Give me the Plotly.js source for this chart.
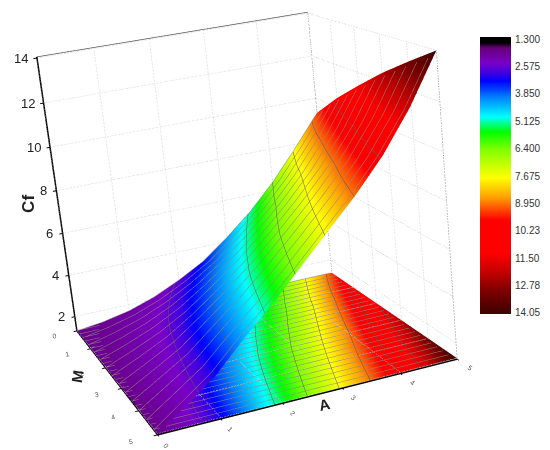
<!DOCTYPE html>
<html><head><meta charset="utf-8">
<script src="https://cdn.plot.ly/plotly-3.0.1.min.js"></script>
<style>html,body{margin:0;padding:0;width:550px;height:450px;overflow:hidden;background:#fff}
#g{position:absolute}</style></head><body><div id="g"></div>
<script>
const aValues=[0,0.5,1,1.5,2,2.5,3,3.5,4,4.5,5];
const mValues=[0,1,2,3,4,5];
const cfM0=[1.3,1.45,1.7,2.1,2.65,3.3,4.2,5.2,6.4,7.8,9.3];
const cfM1=[1.3,1.63,2.04,2.58,3.25,4.05,5.0,6.05,7.3,8.75,10.43];
const cfM2=[1.3,1.79,2.33,3.0,3.85,4.75,5.75,6.85,8.1,9.6,11.42];
const cfM3=[1.3,1.94,2.61,3.5,4.4,5.4,6.5,7.65,8.9,10.45,12.36];
const cfM4=[1.3,2.07,2.86,3.9,4.9,6.0,7.15,8.35,9.65,11.25,13.2];
const cfM5=[1.3,2.2,3.1,4.3,5.4,6.6,7.8,9.0,10.35,12.0,14.0];
const barLevels=[1.3,2.575,3.85,5.125,6.4,7.675,8.95,10.23,11.5,12.78,14.05];
const barLabels=['1.300','2.575','3.850','5.125','6.400','7.675','8.950','10.23','11.50','12.78','14.05'];
const aTicks=[0,1,2,3,4,5],mTicks=[0,1,2,3,4,5],zTicks=[2,4,6,8,10,12,14];
const contourLevels=[2.575,3.85,5.125,6.4,7.675,8.95,10.23,11.5];
const cfMin=1.3,cfMax=14.05;
const palette=[[0,'#000000'],[0.012,'#000000'],[0.03,'#660077'],[0.084,'#7a00c8'],[0.12,'#4000e0'],[0.15,'#0000ff'],[0.21,'#0080ff'],[0.283,'#00ffff'],[0.337,'#00ff00'],[0.40,'#80ff00'],[0.505,'#ffff00'],[0.577,'#ffa000'],[0.66,'#ff0000'],[0.78,'#ff0000'],[0.853,'#c00000'],[0.913,'#800000'],[1,'#400000']];
const surfacePalette=[[0,'#6a008a']].concat(palette.slice(3));

const cf=[cfM0,cfM1,cfM2,cfM3,cfM4,cfM5];
const W=1500,H=1200,left=240-W/2,top_=203-H/2;
const el=document.getElementById('g');
el.style.left=left+'px';el.style.top=top_+'px';el.style.width=W+'px';el.style.height=H+'px';
const px=x=>(x-left)/W, py=y=>1-(y-top_)/H;
const flat={ambient:1,diffuse:0,specular:0,roughness:1,fresnel:0};
const FONT='"Liberation Sans", Arial, sans-serif';
const axisBase={showbackground:false,showgrid:false,zeroline:false,showspikes:false,
 showline:true,linecolor:'#000',linewidth:3,ticks:'outside',ticklen:3,tickcolor:'#000',tickwidth:2,mirror:false,title:{text:''}};
const floorGain=0.002,floorBase=cfMin+0.02;
const floorZ=v=>floorBase+floorGain*(v-cfMin);
const line=(xs,ys,zs,color,width,dash)=>({type:'scatter3d',mode:'lines',x:xs,y:ys,z:zs,hoverinfo:'skip',showlegend:false,line:{color:color,width:width,dash:dash}});
const gridColor='#c4c4c4';
const frame=[];
aTicks.forEach(a=>frame.push(line([a,a],[0,0],[cfMin,cfMax],gridColor,1.5,'dot')));
mTicks.forEach(m=>frame.push(line([5,5],[m,m],[cfMin,cfMax],gridColor,1.5,'dot')));
zTicks.forEach(z=>{frame.push(line([0,5],[0,0],[z,z],gridColor,1.5,'dot'));frame.push(line([5,5],[0,5],[z,z],gridColor,1.5,'dot'));});
aTicks.forEach(a=>frame.push(line([a,a],[0,5],[cfMin+0.05,cfMin+0.05],'#e2e2e2',1.5,'dot')));
mTicks.forEach(m=>frame.push(line([0,5],[m,m],[cfMin+0.05,cfMin+0.05],'#e2e2e2',1.5,'dot')));
frame.push(line([0,5,5],[0,0,5],[cfMax,cfMax,cfMax],'#555',1.5,'solid'));
frame.push(line([5,5],[0,0],[cfMin,cfMax],'#666',1.5,'dot'));
frame.push(line([5,5],[5,5],[cfMin,cfMax],'#666',1.5,'dot'));
const traces=frame.concat([
 {type:'surface',x:aValues,y:mValues,z:cf.map(r=>r.map(floorZ)),surfacecolor:cf,cmin:cfMin,cmax:cfMax,colorscale:surfacePalette,showscale:false,
  lighting:flat,hoverinfo:'skip',
  contours:{y:{show:true,start:0,end:5,size:0.2,color:'#8a8a8a',width:2.5},
            z:{show:true,start:floorZ(contourLevels[0]),end:floorZ(contourLevels[contourLevels.length-1])+1e-4,size:floorGain*1.275,color:'#555',width:2}}},
 {type:'surface',x:aValues,y:mValues,z:cf,surfacecolor:cf,cmin:cfMin,cmax:cfMax,colorscale:surfacePalette,showscale:false,
  lighting:flat,hoverinfo:'skip',
  contours:{y:{show:true,start:0,end:5,size:0.4,color:'#8a8a8a',width:2},
            z:{show:true,start:contourLevels[0],end:contourLevels[contourLevels.length-1],size:1.275,color:'#5a5a5a',width:2}}},
 {type:'heatmap',x:[0,1],y:barLevels,z:barLevels.map(v=>[v,v]),zmin:cfMin,zmax:cfMax,colorscale:palette,showscale:false,zsmooth:'best',xaxis:'x',yaxis:'y',hoverinfo:'skip'}
]);
const ann=(text,x,y,z,size,angle,xs,ys,bold)=>({text:bold?'<b>'+text+'</b>':text,x:x,y:y,z:z,showarrow:false,textangle:angle,xshift:xs,yshift:ys,font:{family:FONT,size:size,color:'#222'}});
const zLabels=zTicks.map(z=>ann(String(z),0,0,z,13,0,z>=10?-16:-13,0,false));
const layout={width:W,height:H,margin:{l:0,r:0,t:0,b:0},paper_bgcolor:'rgba(0,0,0,0)',showlegend:false,
 xaxis:{domain:[px(480),px(511)],range:[0,1],visible:false,fixedrange:true},
 yaxis:{domain:[py(314),py(37)],range:[14.1,1.2],side:'right',tickvals:barLevels,ticktext:barLabels,ticks:'',showgrid:false,zeroline:false,showline:false,ticklabelstandoff:3,
  tickfont:{family:FONT,size:10,color:'#333'},anchor:'x',fixedrange:true},
 scene:{domain:{x:[0,1],y:[0,1]},aspectmode:'manual',aspectratio:{x:1.01,y:1.0,z:1.01},dragmode:'orbit',
  camera:{eye:{x:-1.46,y:-4.37,z:1.35},up:{x:0.0995,y:-0.033,z:1},center:{x:0,y:0,z:0}},
  annotations:zLabels.concat([ann('Cf',0,0,7.4,17,-90,-30,0,true),ann('A',2.7,5,cfMin,15,-12,0,-12,true),ann('M',0,2.4,cfMin,15,-80,-34,0,true)]),
  xaxis:Object.assign({},axisBase,{range:[0,5],tickvals:aTicks,tickfont:{family:FONT,size:9,color:'#555'}}),
  yaxis:Object.assign({},axisBase,{range:[5,0],tickvals:mTicks,tickfont:{family:FONT,size:9,color:'#555'}}),
  zaxis:Object.assign({},axisBase,{range:[cfMin,cfMax],tickvals:zTicks,showticklabels:false})
 }};
Plotly.newPlot(el,traces,layout,{displayModeBar:false});
</script></body></html>
